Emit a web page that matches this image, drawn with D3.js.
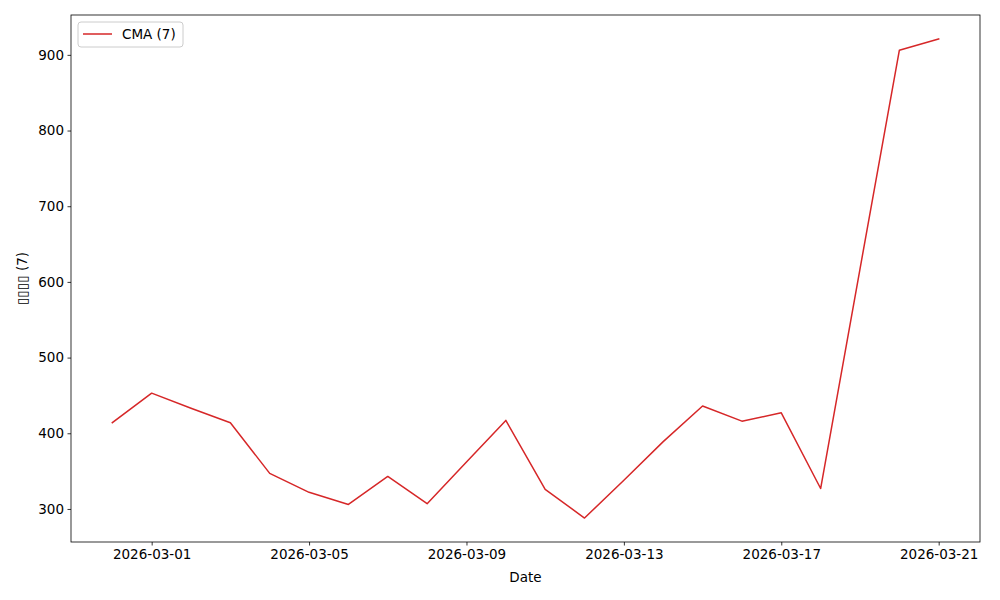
<!DOCTYPE html>
<html><head><meta charset="utf-8">
<script src="https://cdn.jsdelivr.net/npm/d3@7"></script>
<style>body{margin:0;background:#fff}svg{display:block}text{font-family:"DejaVu Sans",sans-serif;fill:#000}</style>
</head><body>
<svg id="c" width="1000" height="600"></svg>
<script>
const dates = ["2026-02-28","2026-03-01","2026-03-02","2026-03-03","2026-03-04","2026-03-05","2026-03-06","2026-03-07","2026-03-08","2026-03-09","2026-03-10","2026-03-11","2026-03-12","2026-03-13","2026-03-14","2026-03-15","2026-03-16","2026-03-17","2026-03-18","2026-03-19","2026-03-20","2026-03-21"];
const cmaValues = [414, 453, 433, 414, 347, 322, 306, 343, 307, 362, 417, 326, 288, 338, 389, 436, 416, 427, 327, 617, 906, 921];
const yTicks = [300, 400, 500, 600, 700, 800, 900];
const xTickLabels = ["2026-03-01","2026-03-05","2026-03-09","2026-03-13","2026-03-17","2026-03-21"];
const seriesName = "CMA (7)";
const xLabel = "Date";
const yLabel = "\u25AF\u25AF\u25AF\u25AF (7)";

const parse = d3.utcParse("%Y-%m-%d");
const fmt = d3.utcFormat("%Y-%m-%d");
const data = dates.map((d,i)=>({date:parse(d), v:cmaValues[i]}));
const L=71, R=980, T=15, B=542;
const svg = d3.select("#c");
const x0 = data[0].date, x1 = data[data.length-1].date;
const span = x1 - x0;
const x = d3.scaleUtc().domain([new Date(+x0 - span*0.05), new Date(+x1 + span*0.05)]).range([L,R]);
const ymin = d3.min(cmaValues), ymax = d3.max(cmaValues), yr = ymax-ymin;
const y = d3.scaleLinear().domain([ymin - yr*0.05, ymax + yr*0.05]).range([B,T]);

const line = d3.line().x(d=>x(d.date)).y(d=>y(d.v));
svg.append("path").datum(data).attr("d", line).attr("fill","none")
  .attr("stroke","#d62728").attr("stroke-width",1.5).attr("stroke-linejoin","round").attr("stroke-linecap","square");

const xAxis = d3.axisBottom(x).tickValues(xTickLabels.map(parse)).tickFormat(fmt).tickSize(3.5).tickPadding(3.5);
const gx = svg.append("g").attr("transform",`translate(0,${B})`).call(xAxis);
const yAxis = d3.axisLeft(y).tickValues(yTicks).tickSize(3.5).tickPadding(3.5);
const gy = svg.append("g").attr("transform",`translate(${L},0)`).call(yAxis);
[gx,gy].forEach(g=>{
  g.select(".domain").remove();
  g.selectAll("text").attr("font-size","13.5px").attr("fill","#000").attr("font-family","DejaVu Sans, sans-serif");
  g.selectAll("line").attr("stroke","#000").attr("stroke-width",0.8);
});
svg.append("rect").attr("x",L).attr("y",T).attr("width",R-L).attr("height",B-T)
  .attr("fill","none").attr("stroke","#000").attr("stroke-width",0.8);

svg.append("text").attr("x",(L+R)/2).attr("y",582).attr("text-anchor","middle")
  .attr("font-size","13.5px").text(xLabel);
svg.append("text").attr("transform",`translate(27,${(T+B)/2}) rotate(-90)`).attr("text-anchor","middle")
  .attr("font-size","13.5px").attr("fill","#000").text(yLabel);

const lg = svg.append("g");
lg.append("rect").attr("x",78).attr("y",22).attr("width",105).attr("height",25).attr("rx",3)
  .attr("fill","#fff").attr("fill-opacity",0.8).attr("stroke","#ccc").attr("stroke-width",1);
lg.append("line").attr("x1",83).attr("x2",112).attr("y1",34).attr("y2",34)
  .attr("stroke","#d62728").attr("stroke-width",1.5);
lg.append("text").attr("x",122).attr("y",39).attr("font-size","13.5px").text(seriesName);
</script>
</body></html>
